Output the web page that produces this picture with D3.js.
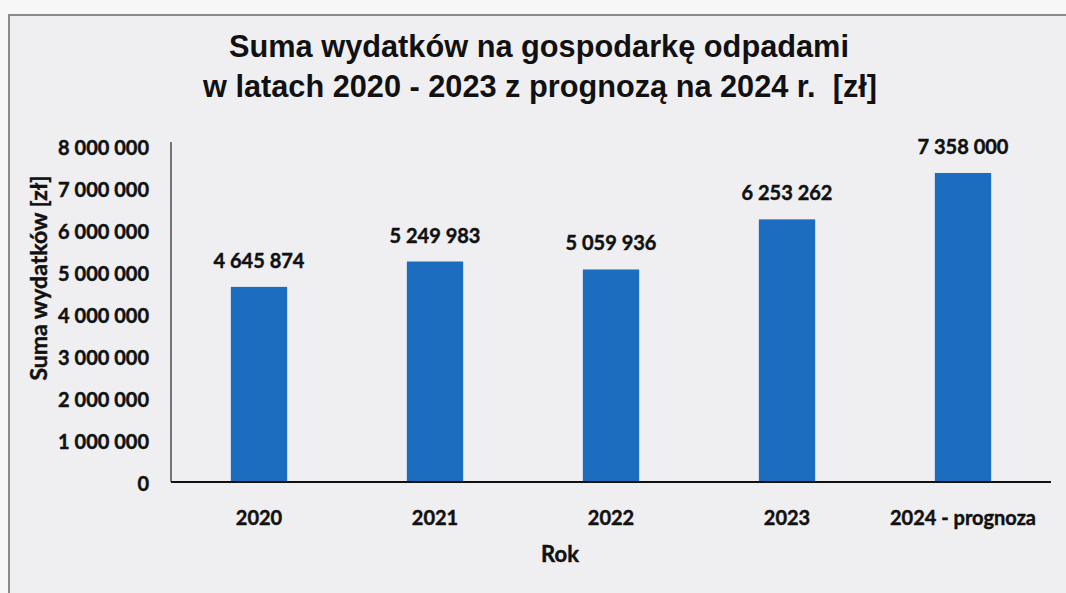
<!DOCTYPE html>
<html><head><meta charset="utf-8">
<script src="https://cdn.jsdelivr.net/npm/d3@7"></script>
<style>
html,body{margin:0;padding:0;background:#f7f7f7;}
svg{display:block;}
</style></head>
<body>
<svg id="chart" width="1066" height="593"></svg>
<script>
const categories = ["2020", "2021", "2022", "2023", "2024 - prognoza"];
const values = [4645874, 5249983, 5059936, 6253262, 7358000];
const yTicks = [0, 1000000, 2000000, 3000000, 4000000, 5000000, 6000000, 7000000, 8000000];
const titleLines = ["Suma wydatków na gospodarkę odpadami", "w latach 2020 - 2023 z prognozą na 2024 r.\u00a0\u00a0[zł]"];
const yTitle = "Suma wydatków [zł]";
const xTitle = "Rok";

const svg = d3.select("#chart");
const W = 1066, H = 593;
const fmt = v => d3.format(",")(v).replace(/,/g, " ");
const numFont = "Lato, 'Open Sans', sans-serif";

// frame
svg.append("rect").attr("x", 9).attr("y", 15).attr("width", W).attr("height", H)
  .attr("fill", "#efeff1").attr("stroke", "#8a8a8a").attr("stroke-width", 2);

const m = {left: 171, right: 1051, top: 146, bottom: 482};
const x = d3.scaleBand().domain(categories).range([m.left, m.right]).paddingInner(0.68).paddingOuter(0.34);
const y = d3.scaleLinear().domain([0, 8000000]).range([m.bottom, m.top]);

// title
const title = svg.append("text").attr("text-anchor", "middle")
  .attr("font-family", "'Liberation Sans', Arial, sans-serif").attr("font-weight", "bold")
  .attr("font-size", 31).attr("fill", "#111");
title.append("tspan").attr("x", 539).attr("y", 57).text(titleLines[0]);
title.append("tspan").attr("x", 540).attr("y", 97).text(titleLines[1]);
title.selectAll("tspan").each(function(d, i) {
  const target = [620, 674][i];
  d3.select(this).attr("textLength", target).attr("lengthAdjust", "spacingAndGlyphs");
});

// bars
svg.append("g").selectAll("rect").data(values).join("rect")
  .attr("x", (d, i) => x(categories[i])).attr("width", x.bandwidth())
  .attr("y", d => y(d)).attr("height", d => y(0) - y(d))
  .attr("fill", "#1c6cc0");

const heavy = sel => sel.attr("stroke", "#111").attr("stroke-width", 0.45);

// value labels
svg.append("g").selectAll("text").data(values).join("text")
  .attr("x", (d, i) => x(categories[i]) + x.bandwidth() / 2)
  .attr("y", d => y(d) - 19)
  .attr("text-anchor", "middle")
  .attr("font-family", numFont).attr("font-weight", "bold").attr("font-size", 20)
  .attr("fill", "#111").text(d => fmt(d)).call(heavy);

// y axis
const yAxis = svg.append("g").attr("transform", `translate(${m.left},0)`)
  .call(d3.axisLeft(y).tickValues(yTicks).tickSize(0).tickPadding(22).tickFormat(fmt));
yAxis.select(".domain").attr("stroke", "#222").attr("stroke-width", 1.2)
  .attr("d", `M0,${m.top - 4}V${m.bottom}`);
yAxis.selectAll("text").attr("font-family", numFont).attr("font-weight", "bold")
  .attr("font-size", 20).attr("fill", "#111").attr("dy", "0.4em").call(heavy);

// x axis
const xAxis = svg.append("g").attr("transform", `translate(0,${m.bottom})`)
  .call(d3.axisBottom(x).tickSize(0).tickPadding(29));
xAxis.select(".domain").attr("stroke", "#111").attr("stroke-width", 2)
  .attr("d", `M${m.left},0H${m.right}`);
xAxis.selectAll("text").attr("font-family", numFont).attr("font-weight", "bold")
  .attr("font-size", 20).attr("fill", "#111").call(heavy);

// axis titles
svg.append("text").attr("transform", "translate(47,278) rotate(-90)")
  .attr("text-anchor", "middle").attr("font-family", numFont).attr("font-weight", "bold")
  .attr("font-size", 23).attr("fill", "#111").text(yTitle).call(heavy);
svg.append("text").attr("x", 560).attr("y", 562).attr("text-anchor", "middle")
  .attr("font-family", numFont).attr("font-weight", "bold")
  .attr("font-size", 22).attr("fill", "#111").text(xTitle).call(heavy);
</script>
</body></html>
